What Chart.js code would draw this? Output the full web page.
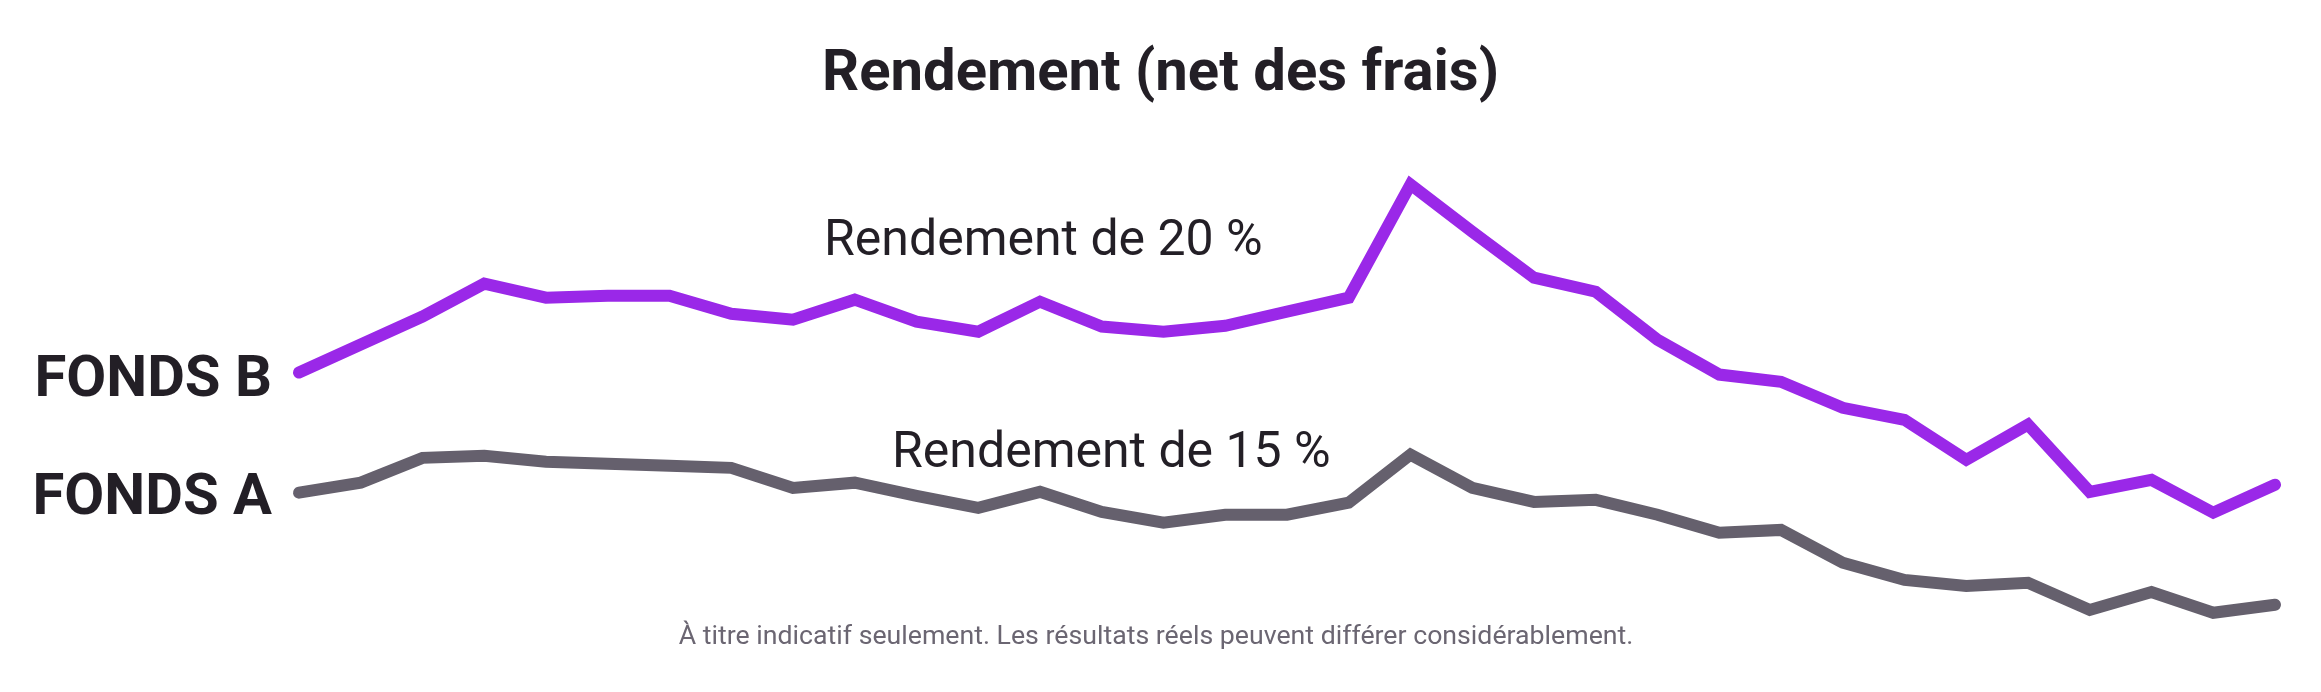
<!DOCTYPE html>
<html>
<head>
<meta charset="utf-8">
<script src="https://cdn.jsdelivr.net/npm/chart.js@4.4.0/dist/chart.umd.min.js"></script>
<style>
  html, body { margin: 0; padding: 0; background: #ffffff; }
  #wrap { width: 2321px; height: 692px; }
</style>
</head>
<body>
<div id="wrap"><canvas id="rendement-chart"></canvas></div>
<script>
// periodes (pas d'axe visible)
var periodes = [];
for (var i = 1; i <= 33; i++) { periodes.push('P' + i); }

// valeurs (unite arbitraire)
var fonds_b = [69.3, 76.3, 83.3, 91.5, 88, 88.5, 88.5, 84, 82.5, 87.5, 82, 79.5, 87, 80.8, 79.5, 81,
               84.5, 88, 116.3, 104.5, 93, 89.5, 77.5, 68.8, 67, 60.5, 57.5, 47.5, 56.3, 39.5, 42.5, 34.3, 41.3];
var fonds_a = [39.3, 41.8, 48, 48.5, 47, 46.5, 46, 45.5, 40.5, 41.8, 38.5, 35.5, 39.5, 34.5, 31.8, 33.8,
               33.8, 36.8, 48.8, 40.5, 37, 37.5, 33.8, 29.3, 30, 21.8, 17.5, 16, 16.8, 10, 14.5, 9.3, 11.3];

var titre = 'Rendement (net des frais)';
var etiquettes = ['FONDS B', 'FONDS A'];
var notes = ['Rendement de 20 %', 'Rendement de 15 %'];
var avertissement = 'À titre indicatif seulement. Les résultats réels peuvent différer considérablement.';

var violet = '#9a28e8';
var gris = '#65606d';
var texte = '#231f26';

// textes ajoutes par dessus le graphique
var textesPlugin = {
  id: 'textes',
  afterDraw: function(chart) {
    var ctx = chart.ctx;
    var xs = chart.scales.x, ys = chart.scales.y;
    ctx.save();
    ctx.fillStyle = texte;
    ctx.font = 'bold 58px Roboto';
    ctx.textAlign = 'right';
    ctx.textBaseline = 'alphabetic';
    var x0 = xs.getPixelForValue(0) - 27;
    ctx.fillText(etiquettes[0], x0, ys.getPixelForValue(fonds_b[0]) + 23);
    ctx.fillText(etiquettes[1], x0, ys.getPixelForValue(fonds_a[0]) + 21);

    ctx.font = '50px Roboto';
    ctx.textAlign = 'left';
    ctx.fillText(notes[0], 824, 255);
    ctx.fillText(notes[1], 892, 467);

    ctx.font = '26.7px Roboto';
    ctx.fillStyle = '#6b6672';
    ctx.textAlign = 'center';
    ctx.fillText(avertissement, 1156, 644);
    ctx.restore();
  }
};

// axe invisible qui reserve la marge a gauche / a droite
function largeur(w) {
  return function(scale) { scale.width = w; };
}

new Chart(document.getElementById('rendement-chart').getContext('2d'), {
  type: 'line',
  data: {
    labels: periodes,
    datasets: [{
        data: fonds_b,
        label: etiquettes[0],
        borderColor: violet,
        borderWidth: 12,
        borderCapStyle: 'round',
        borderJoinStyle: 'miter',
        pointRadius: 0,
        fill: false,
        clip: false
      }, {
        data: fonds_a,
        label: etiquettes[1],
        borderColor: gris,
        borderWidth: 12,
        borderCapStyle: 'round',
        borderJoinStyle: 'miter',
        pointRadius: 0,
        fill: false,
        clip: false
      }
    ]
  },
  options: {
    responsive: true,
    maintainAspectRatio: false,
    animation: false,
    layout: { padding: { left: 0, right: 0, top: 0, bottom: 42 } },
    scales: {
      x: { display: false, offset: false },
      y: {
        position: 'left', min: 0, max: 120,
        grid: { display: false }, border: { display: false },
        ticks: { display: false },
        afterFit: largeur(299)
      },
      y2: {
        position: 'right', min: 0, max: 120,
        grid: { display: false }, border: { display: false },
        ticks: { display: false },
        afterFit: largeur(46)
      }
    },
    plugins: {
      legend: { display: false },
      tooltip: { enabled: false },
      title: {
        display: true,
        text: titre,
        color: texte,
        font: { family: 'Roboto', size: 58, weight: 'bold', lineHeight: 1.2 },
        padding: { top: 41, bottom: 59 }
      }
    }
  },
  plugins: [textesPlugin]
});
</script>
</body>
</html>
